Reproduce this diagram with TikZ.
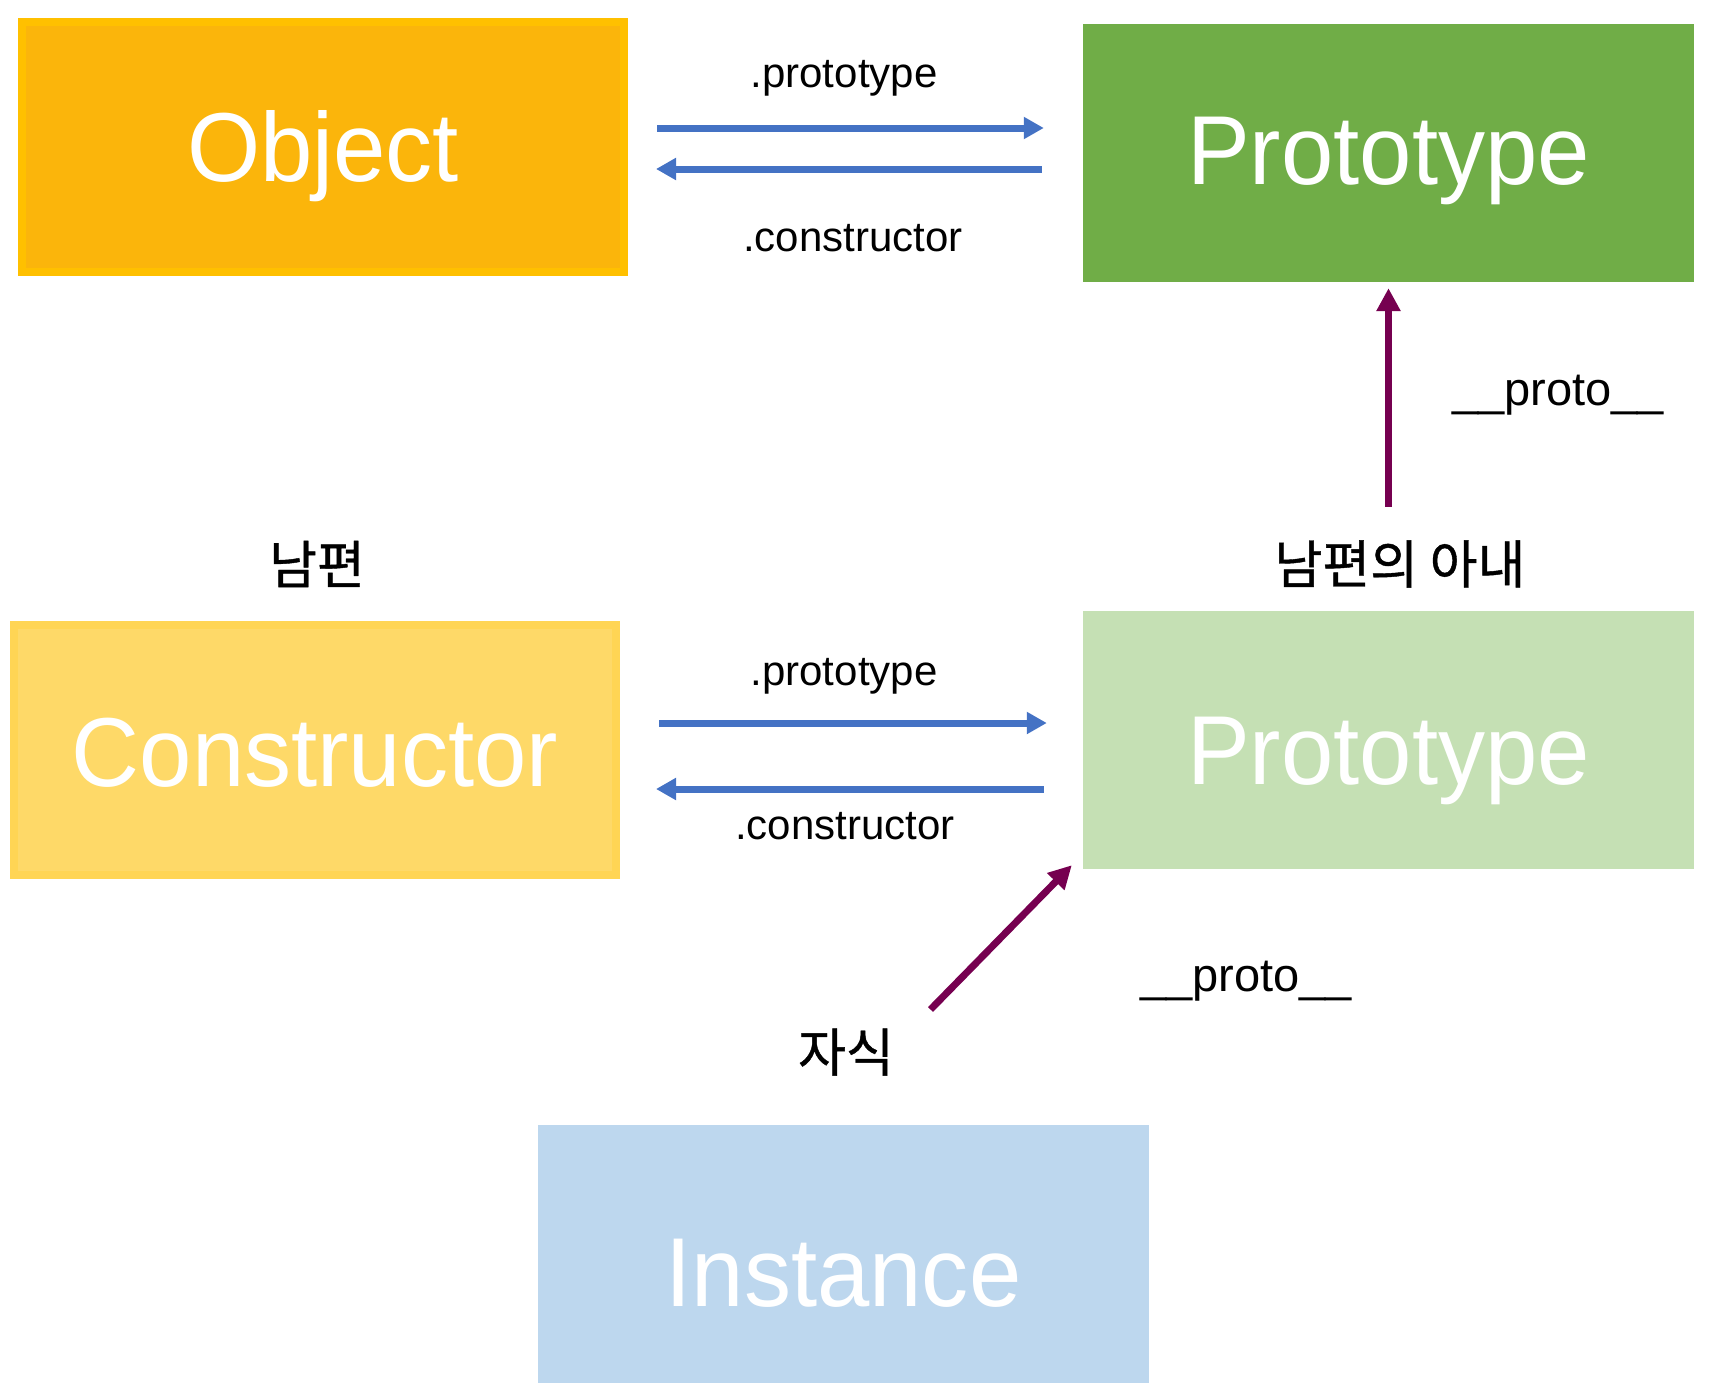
\documentclass[tikz,border=0pt]{standalone}
\usepackage{fontspec}
\setmainfont{Liberation Sans}
\newfontfamily\boxfont[FakeStretch=0.96]{Liberation Sans}
\newfontfamily\kofont[FakeBold=0.8]{Noto Sans CJK KR}
\usetikzlibrary{arrows.meta}

\definecolor{objfill}{RGB}{251,181,11}
\definecolor{objrim}{RGB}{255,192,0}
\definecolor{ctorfill}{RGB}{254,217,104}
\definecolor{ctorrim}{RGB}{255,213,84}
\definecolor{protogreen}{RGB}{112,173,71}
\definecolor{protolight}{RGB}{197,224,180}
\definecolor{instblue}{RGB}{189,215,238}
\definecolor{linkblue}{RGB}{68,114,196}
\definecolor{linkpurple}{RGB}{118,0,80}

\tikzset{
  box/.style={rectangle, inner sep=0pt, minimum width=611pt, minimum height=258pt,
    text=white, font=\boxfont\fontsize{98pt}{100pt}\selectfont, text height=70pt, text depth=0pt},
  rimbox/.style={box, line width=8pt, minimum width=602pt, minimum height=250pt},
  lbl/.style={anchor=base, font=\fontsize{42pt}{46pt}\selectfont},
  protolbl/.style={anchor=base, font=\fontsize{47pt}{50pt}\selectfont},
  kolbl/.style={font=\kofont\fontsize{52pt}{56pt}\selectfont},
  bluelink/.style={draw=linkblue, line width=7pt, -{Triangle[length=20pt,width=21pt]}},
  purplelink/.style={draw=linkpurple, line width=7pt, -{Triangle[length=23pt,width=23pt]}}
}

\begin{document}
\begin{tikzpicture}[x=1pt,y=-1pt]
	\useasboundingbox (0,0) rectangle (1722,1398);

	\node[rimbox, fill=objfill, draw=objrim, text height=68pt] (object) at (323,147) {Object};
	\node[box, fill=protogreen, text height=62pt] (proto) at (1388.5,153) {Prototype};
	\node[rimbox, fill=ctorfill, draw=ctorrim, text height=73pt] (ctor) at (315,750) {Constructor};
	\node[box, fill=protolight, text height=89pt] (lowproto) at (1388.5,740) {Prototype};
	\node[box, fill=instblue, text height=104pt] (inst) at (843.5,1254) {Instance};

	\node[lbl] (topprotolbl) at (844,87) {.prototype};
	\node[lbl] (topctorlbl) at (853,251) {.constructor};
	\node[lbl] (lowprotolbl) at (844,685) {.prototype};
	\node[lbl] (lowctorlbl) at (845,839) {.constructor};

	\node[protolbl] (upproto) at (1558,405) {\_\_proto\_\_};
	\node[protolbl] (kidproto) at (1246,991) {\_\_proto\_\_};

	\node[kolbl] (husband) at (317,564) {남편};
	\node[kolbl] (wife) at (1400,564) {남편의 아내};
	\node[kolbl] (child) at (846,1052) {자식};

	\draw[bluelink, shorten <=29pt, shorten >=39pt] ([yshift=19pt]object.east) -- ([yshift=19pt]object.east -| proto.west);
	\draw[bluelink, shorten <=41pt, shorten >=28pt] ([yshift=-22pt]object.east -| proto.west) -- ([yshift=-22pt]object.east);

	\draw[bluelink, shorten <=39pt, shorten >=36pt] ([yshift=27pt]ctor.east) -- ([yshift=27pt]ctor.east -| lowproto.west);
	\draw[bluelink, shorten <=39pt, shorten >=36pt] ([yshift=-39pt]ctor.east -| lowproto.west) -- ([yshift=-39pt]ctor.east);

	\draw[purplelink, shorten >=6pt] ([yshift=104pt]lowproto.north) -- (proto.south);

	\coordinate (kidtail) at (930.5,1009.5);
	\draw[purplelink] (kidtail) -- ([xshift=-11pt,yshift=4pt]lowproto.south west);
\end{tikzpicture}
\end{document}
